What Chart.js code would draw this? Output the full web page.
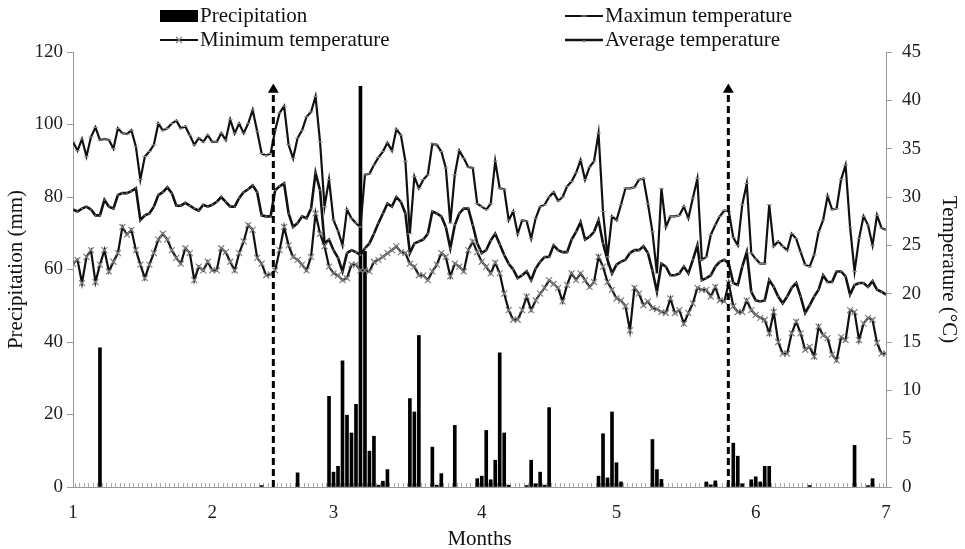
<!DOCTYPE html>
<html>
<head>
<meta charset="utf-8">
<title>Precipitation and temperature</title>
<script src="https://cdn.jsdelivr.net/npm/chart.js@4.4.1/dist/chart.umd.min.js"></script>
<style>
    html, body { margin: 0; padding: 0; background: #fff; }
    #wrap { position: relative; width: 965px; height: 549px; }
    #grafica { display: block; }
    #legend { position: absolute; left: 0; top: 0; width: 965px; height: 50px;
              font: 21px 'Liberation Serif', 'Times New Roman', serif; color: #111; }
    #legend .item { position: absolute; height: 24px; line-height: 24px; white-space: nowrap; }
    #legend svg { vertical-align: top; margin-right: 2px; }
</style>
</head>
<body>
<div id="wrap">
    <canvas id="grafica" width="965" height="549"></canvas>
    <div id="legend"></div>
</div>
<script>
console.log("grafica clima")
// Datos diarios (dia 0 = inicio del mes 1)

// Temperatura maxima (ºC)
const tMax = [
    35.7, 34.8, 36.0, 34.2, 36.2, 37.2, 35.9, 36.0, 35.9, 35.0,
    37.1, 36.6, 36.5, 36.9, 35.2, 31.8, 34.2, 34.7, 35.4, 37.6,
    36.9, 37.1, 37.6, 37.9, 37.1, 37.3, 36.4, 35.4, 36.1, 35.7,
    36.4, 35.7, 35.7, 36.6, 35.9, 38.0, 36.6, 37.6, 36.6, 37.6,
    39.0, 36.8, 34.5, 34.3, 34.5, 36.9, 38.7, 39.4, 35.4, 34.0,
    36.1, 36.9, 38.3, 38.8, 40.4, 35.7, 29.0, 31.8, 27.6, 26.5,
    25.0, 28.7, 27.8, 27.3, 26.9, 32.3, 32.4, 33.3, 34.1, 34.7,
    35.6, 34.8, 37.0, 36.4, 33.7, 26.2, 32.1, 30.9, 31.8, 32.3,
    35.5, 35.4, 34.7, 33.0, 27.3, 32.3, 34.8, 34.0, 33.1, 33.0,
    29.3, 29.0, 28.7, 29.3, 33.7, 30.9, 30.8, 27.6, 28.5, 26.2,
    27.6, 27.5, 25.7, 27.8, 29.0, 29.2, 30.0, 30.5, 29.6, 30.0,
    31.1, 31.6, 32.5, 33.8, 31.8, 33.1, 33.7, 36.6, 28.5, 23.8,
    28.0, 27.6, 29.2, 30.9, 30.9, 31.0, 31.8, 31.9, 29.3, 26.4,
    22.1, 30.9, 26.9, 28.0, 28.0, 28.1, 29.0, 27.8, 29.9, 31.9,
    23.5, 23.8, 26.1, 27.1, 28.0, 28.6, 28.5, 25.8, 25.0, 29.2,
    31.4, 24.2, 23.6, 23.1, 23.1, 29.2, 24.9, 25.4, 24.9, 24.5,
    26.2, 25.7, 24.3, 23.0, 22.8, 24.0, 26.4, 27.6, 30.1, 28.7,
    28.8, 31.8, 33.3, 26.9, 22.3, 25.7, 28.0, 27.1, 25.0, 28.1,
    26.8, 26.6
];

// Temperatura minima (ºC)
const tMin = [
    23.1, 23.5, 21.1, 23.8, 24.5, 21.2, 23.0, 24.5, 22.3, 23.3,
    24.2, 26.9, 26.1, 26.6, 24.5, 23.0, 21.6, 23.0, 24.2, 25.6,
    26.2, 25.6, 24.5, 23.7, 23.1, 24.7, 24.2, 21.4, 22.8, 22.4,
    23.3, 22.4, 22.4, 24.7, 24.3, 23.3, 22.4, 24.2, 25.4, 27.1,
    26.6, 23.7, 23.1, 21.9, 22.0, 22.4, 24.5, 26.9, 25.0, 23.8,
    23.5, 23.0, 22.4, 23.8, 28.3, 26.2, 24.9, 22.8, 22.1, 21.9,
    21.4, 21.6, 23.0, 23.0, 22.4, 22.4, 22.3, 23.3, 23.5, 23.8,
    24.2, 24.5, 24.9, 24.3, 24.2, 23.1, 22.8, 21.9, 21.9, 21.4,
    22.3, 23.0, 24.2, 23.8, 21.8, 23.1, 22.8, 22.3, 24.5, 25.4,
    24.3, 23.3, 22.8, 22.1, 23.2, 22.1, 20.0, 18.3, 17.3, 17.3,
    18.3, 19.7, 18.3, 19.3, 20.0, 20.6, 21.4, 21.0, 20.6, 19.2,
    20.9, 22.1, 21.4, 22.1, 21.4, 20.7, 21.2, 23.8, 22.8, 21.2,
    20.4, 19.5, 19.3, 18.7, 16.2, 20.6, 20.0, 18.8, 19.2, 18.5,
    18.4, 18.1, 18.0, 19.5, 18.0, 18.3, 16.9, 18.0, 19.0, 20.6,
    20.4, 20.4, 19.7, 20.7, 19.3, 19.2, 21.1, 18.7, 18.1, 18.1,
    19.3, 18.3, 17.8, 17.5, 17.3, 15.9, 18.1, 15.0, 13.8, 13.8,
    15.9, 17.1, 15.9, 14.2, 14.5, 13.5, 16.6, 15.7, 15.4, 13.7,
    13.1, 15.5, 15.2, 18.3, 18.1, 15.2, 16.9, 17.5, 17.3, 14.9,
    13.8, 13.8
];

// Temperatura promedio (ºC)
const tAvg = [
    28.7, 28.5, 28.8, 29.0, 28.7, 28.1, 28.1, 29.7, 29.0, 28.8,
    30.2, 30.4, 30.4, 30.6, 30.9, 27.6, 28.1, 28.3, 29.0, 30.2,
    30.5, 31.0, 30.4, 29.1, 29.1, 29.4, 29.1, 28.8, 28.6, 29.2,
    29.0, 29.2, 29.5, 30.0, 29.5, 29.0, 29.0, 29.9, 30.5, 30.8,
    31.2, 30.5, 28.1, 28.0, 28.0, 30.7, 31.1, 31.4, 28.3, 26.9,
    27.3, 28.0, 27.8, 28.8, 32.5, 30.7, 25.2, 25.6, 24.5, 23.7,
    22.3, 24.2, 24.5, 24.3, 24.0, 24.7, 25.2, 26.2, 27.3, 28.3,
    29.3, 29.0, 30.0, 29.5, 28.3, 24.2, 25.2, 25.4, 25.6, 26.2,
    28.5, 28.3, 28.0, 26.9, 24.7, 27.1, 28.3, 28.8, 28.8, 27.1,
    25.2, 24.2, 24.5, 25.5, 26.2, 25.1, 24.0, 23.1, 22.5, 21.6,
    21.9, 22.3, 21.4, 22.6, 23.3, 23.8, 23.8, 25.0, 24.5, 24.3,
    24.3, 25.6, 26.4, 27.4, 25.6, 25.9, 26.4, 27.6, 25.2, 23.5,
    22.1, 23.0, 23.3, 23.5, 24.2, 24.5, 24.5, 24.9, 24.2, 22.4,
    20.2, 23.1, 22.8, 21.9, 21.9, 22.1, 22.8, 22.1, 23.5, 25.0,
    21.4, 21.6, 21.9, 22.8, 23.3, 23.5, 23.1, 21.1, 20.9, 22.8,
    24.3, 20.2, 19.3, 19.2, 19.3, 21.4, 20.7, 19.7, 19.0, 19.7,
    20.6, 21.1, 19.7, 18.0, 18.8, 19.7, 20.4, 21.9, 21.2, 21.2,
    22.3, 22.3, 21.8, 19.9, 20.9, 21.1, 21.1, 20.7, 21.3, 20.4,
    20.2, 19.9
];

// Precipitacion: dias con lluvia y mm de cada dia
const rainDays = [6, 42, 50, 57, 58, 59, 60, 61, 62, 63, 64, 65, 66, 67, 68, 69, 70,
    75, 76, 77, 80, 81, 82, 85, 90, 91, 92, 93, 94, 95, 96, 97, 101, 102, 103, 104, 105, 106,
    117, 118, 119, 120, 121, 122, 129, 130, 131, 141, 142, 143, 147, 148, 149,
    151, 152, 153, 154, 155, 164, 174, 177, 178];
const rainMm = [38.4, 0.4, 3.9, 25.0, 4.1, 5.7, 34.8, 19.8, 14.9, 22.8, 110.5, 65.0, 9.9, 14.0, 0.5, 1.6, 4.8,
    24.4, 20.7, 41.8, 11.0, 0.5, 3.7, 17.0, 2.3, 3.0, 15.6, 2.0, 7.4, 37.0, 14.9, 0.5, 0.4, 7.4, 0.9, 4.1, 0.5, 21.9,
    3.0, 14.7, 2.5, 20.7, 6.7, 1.4, 13.1, 4.8, 2.1, 1.4, 0.6, 1.7, 12.1, 8.5, 0.9,
    2.0, 2.8, 1.4, 5.7, 5.7, 0.4, 11.5, 0.4, 2.3];

// flechas (inicio / fin) en dias y altura en mm
const arrowDays = [44.6, 145.9];
const arrowTop = 109.6;

// eje x: etiqueta de cada mes
const monthTicks = [0, 31, 58, 91, 121, 152, 181];
const monthLabels = ['1', '2', '3', '4', '5', '6', '7'];
const dayTicks = Array.from({ length: 182 }, (_, i) => i);

const seriesNames = ['Precipitation', 'Maximun temperature', 'Minimum temperature', 'Average temperature'];

Chart.defaults.font.family = "'Liberation Serif', 'Times New Roman', serif";
Chart.defaults.color = '#222';

const toPoints = (arr) => arr.map((v, i) => ({ x: i, y: v }));

const ctx = document.getElementById('grafica').getContext('2d');
let config = {
    type: 'line',
    data: {
        datasets: [
            ...arrowDays.map(d => ({
                type: 'line',
                label: '',
                data: [{ x: d, y: 0 }, { x: d, y: arrowTop }],
                yAxisID: 'y',
                borderColor: '#000',
                borderWidth: 3,
                borderDash: [7, 4],
                pointStyle: 'triangle',
                pointRadius: [0, 6.3],
                pointBackgroundColor: '#000',
                pointBorderWidth: 0,
                order: 0
            })),
            {
                type: 'line',
                label: seriesNames[1],
                data: toPoints(tMax),
                yAxisID: 'y1',
                borderColor: '#111',
                borderWidth: 2.2,
                pointStyle: 'line',
                pointRadius: 2.5,
                pointBorderColor: '#999',
                pointBorderWidth: 1,
                tension: 0,
                order: 2
            },
            {
                type: 'line',
                label: seriesNames[2],
                data: toPoints(tMin),
                yAxisID: 'y1',
                borderColor: '#111',
                borderWidth: 2.2,
                pointStyle: 'crossRot',
                pointRadius: 4.2,
                pointBorderColor: '#808080',
                pointBorderWidth: 1.2,
                tension: 0,
                order: 2
            },
            {
                type: 'line',
                label: seriesNames[3],
                data: toPoints(tAvg),
                yAxisID: 'y1',
                borderColor: '#111',
                borderWidth: 2.6,
                pointStyle: 'circle',
                pointRadius: 1,
                pointBackgroundColor: '#666',
                pointBorderWidth: 0,
                tension: 0,
                order: 2
            },
            {
                type: 'bar',
                label: seriesNames[0],
                data: rainDays.map((d, k) => ({ x: d, y: rainMm[k] })),
                yAxisID: 'y',
                backgroundColor: '#000',
                barThickness: 3,
                order: 5
            }
        ]
    },
    options: {
        responsive: false,
        animation: false,
        layout: { padding: { top: 52, left: 0, right: 0, bottom: 0 } },
        plugins: {
            legend: { display: false },
            tooltip: { enabled: false }
        },
        scales: {
            x: {
                type: 'linear',
                min: 0,
                max: 181,
                offset: false,
                afterBuildTicks: (scale) => { scale.ticks = dayTicks.map(v => ({ value: v })); },
                afterFit: (scale) => { scale.height = 62; },
                ticks: {
                    autoSkip: false,
                    maxRotation: 0,
                    padding: 19,
                    color: '#222',
                    font: { size: 19 },
                    callback: (value) => {
                        const k = monthTicks.indexOf(value);
                        return k >= 0 ? monthLabels[k] : '';
                    }
                },
                grid: { drawOnChartArea: false, tickLength: -4, color: '#aaa', lineWidth: 1 },
                border: { color: '#999', width: 1 },
                title: { display: true, text: 'Months', color: '#111', font: { size: 21 }, padding: { top: 0, bottom: -3 } }
            },
            y: {
                type: 'linear',
                position: 'left',
                min: 0,
                max: 120,
                afterFit: (scale) => { scale.width = 73; },
                ticks: { stepSize: 20, padding: 4, color: '#222', font: { size: 19 } },
                grid: { drawOnChartArea: false, tickLength: 6, color: '#999' },
                border: { color: '#999', width: 1 },
                title: { display: true, text: 'Precipitation (mm)', color: '#111', font: { size: 21 }, padding: { top: 4, bottom: 0 } }
            },
            y1: {
                type: 'linear',
                position: 'right',
                min: 0,
                max: 45,
                afterFit: (scale) => { scale.width = 79; },
                ticks: { stepSize: 5, padding: 10, color: '#222', font: { size: 19 } },
                grid: { drawOnChartArea: false, tickLength: 6, color: '#999' },
                border: { color: '#999', width: 1 },
                title: { display: true, text: 'Temperature (°C)', color: '#111', font: { size: 21 }, padding: { top: 4, bottom: 0 } }
            }
        }
    }
};
const grafica_clima = new Chart(ctx, config);

/**
 * leyenda en html (dos columnas como en la figura)
 */
const legendPos = [[160, 3], [565, 3], [160, 27], [565, 27]];
const markers = [
    '<rect x="0" y="7" width="38" height="12" fill="#000"/>',
    '<line x1="0" y1="13" x2="38" y2="13" stroke="#111" stroke-width="2"/><line x1="16" y1="13" x2="22" y2="13" stroke="#999" stroke-width="1"/>',
    '<line x1="0" y1="13" x2="38" y2="13" stroke="#111" stroke-width="2"/><path d="M16 10 L22 16 M22 10 L16 16" stroke="#808080" stroke-width="1.2" fill="none"/>',
    '<line x1="0" y1="13" x2="38" y2="13" stroke="#111" stroke-width="2.5"/><circle cx="19" cy="14" r="1.2" fill="#666"/>'
];
const legendEl = document.getElementById('legend');
seriesNames.forEach((name, k) => {
    const item = document.createElement('div');
    item.className = 'item';
    item.style.left = legendPos[k][0] + 'px';
    item.style.top = legendPos[k][1] + 'px';
    item.innerHTML = '<svg width="38" height="24">' + markers[k] + '</svg><span>' + name + '</span>';
    legendEl.appendChild(item);
});
</script>
</body>
</html>
